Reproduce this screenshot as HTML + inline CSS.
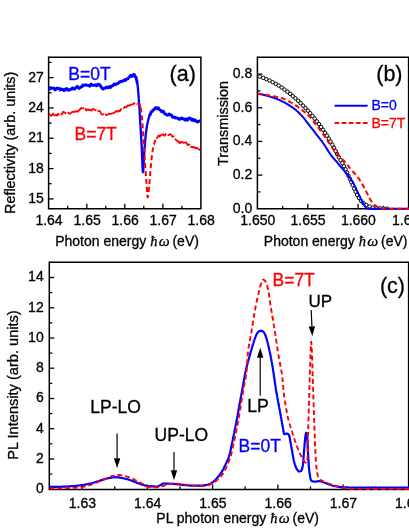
<!DOCTYPE html><html><head><meta charset="utf-8"><style>html,body{margin:0;padding:0;background:#fff}text{stroke:#000;stroke-width:.3px}text[fill="#0000ff"]{stroke:#0000ff}text[fill="#ff0000"]{stroke:#ff0000}svg{display:block;will-change:transform;transform:translateZ(0)}</style></head><body><svg width="409" height="529" viewBox="0 0 409 529"><rect width="409" height="529" fill="#fff"/><g font-family="Liberation Sans, sans-serif" fill="#000"><defs><clipPath id="ca"><rect x="48.6" y="57.2" width="152.3" height="152.7"/></clipPath><clipPath id="cb"><rect x="257.4" y="57.2" width="152" height="152.8"/></clipPath><clipPath id="cc"><rect x="49.3" y="262.2" width="360" height="228.2"/></clipPath></defs><path d="M48.6,56.5 V208.7 H201.4" fill="none" stroke="#000" stroke-width="1.5"/><path d="M48.6,57.2 H200.9 V208.7" fill="none" stroke="#000" stroke-width="1.5"/><path d="M48.6,198.9 h5.0" stroke="#000" stroke-width="1.3"/><path d="M48.6,168.6 h5.0" stroke="#000" stroke-width="1.3"/><path d="M48.6,138.2 h5.0" stroke="#000" stroke-width="1.3"/><path d="M48.6,107.9 h5.0" stroke="#000" stroke-width="1.3"/><path d="M48.6,77.6 h5.0" stroke="#000" stroke-width="1.3"/><path d="M48.6,183.7 h3.0" stroke="#000" stroke-width="1.3"/><path d="M48.6,153.4 h3.0" stroke="#000" stroke-width="1.3"/><path d="M48.6,123.1 h3.0" stroke="#000" stroke-width="1.3"/><path d="M48.6,92.8 h3.0" stroke="#000" stroke-width="1.3"/><path d="M48.6,62.4 h3.0" stroke="#000" stroke-width="1.3"/><path d="M86.8,208.7 v-5.0" stroke="#000" stroke-width="1.3"/><path d="M124.8,208.7 v-5.0" stroke="#000" stroke-width="1.3"/><path d="M162.9,208.7 v-5.0" stroke="#000" stroke-width="1.3"/><path d="M67.7,208.7 v-3.0" stroke="#000" stroke-width="1.3"/><path d="M105.8,208.7 v-3.0" stroke="#000" stroke-width="1.3"/><path d="M143.8,208.7 v-3.0" stroke="#000" stroke-width="1.3"/><path d="M181.9,208.7 v-3.0" stroke="#000" stroke-width="1.3"/><text x="43.8" y="202.8" font-size="14" text-anchor="end">15</text><text x="43.8" y="172.5" font-size="14" text-anchor="end">18</text><text x="43.8" y="142.2" font-size="14" text-anchor="end">21</text><text x="43.8" y="111.8" font-size="14" text-anchor="end">24</text><text x="43.8" y="81.5" font-size="14" text-anchor="end">27</text><text x="49.0" y="224.5" font-size="14" text-anchor="middle">1.64</text><text x="87.1" y="224.5" font-size="14" text-anchor="middle">1.65</text><text x="125.1" y="224.5" font-size="14" text-anchor="middle">1.66</text><text x="163.2" y="224.5" font-size="14" text-anchor="middle">1.67</text><text x="201.2" y="224.5" font-size="14" text-anchor="middle">1.68</text><text x="55.2" y="245.6" font-size="14">Photon energy <tspan font-family="Liberation Serif, serif" font-style="italic" font-size="14.5">&#x127;</tspan><tspan font-family="Liberation Serif, serif" font-style="italic" font-size="15.5" dx="1.3">&#x3C9;</tspan><tspan dx="-1.1"> (eV)</tspan></text><text transform="translate(15.2,214) rotate(-90)" font-size="14.4">Reflectivity (arb. units)</text><g clip-path="url(#ca)"><path d="M49.0,89.2 L49.5,89.2 L50.0,88.0 L50.5,87.6 L51.0,87.7 L51.5,88.2 L52.0,88.2 L52.5,88.3 L53.0,88.2 L53.5,88.0 L54.0,88.2 L54.5,88.9 L55.0,89.9 L55.5,89.7 L56.0,89.2 L56.5,88.5 L57.0,88.1 L57.5,88.5 L58.0,88.6 L58.5,88.6 L59.0,88.3 L59.5,89.2 L60.0,89.9 L60.5,89.6 L60.9,88.9 L61.4,89.1 L61.9,89.6 L62.4,89.6 L62.9,89.3 L63.4,89.7 L63.9,90.7 L64.4,90.6 L64.9,89.9 L65.4,89.1 L65.9,88.8 L66.5,88.6 L67.0,88.7 L67.5,89.8 L68.0,90.3 L68.5,90.1 L69.0,89.8 L69.4,90.0 L69.9,89.8 L70.4,89.3 L70.8,89.2 L71.3,89.2 L71.7,89.1 L72.1,88.3 L72.5,87.9 L73.0,88.1 L73.4,88.8 L73.8,89.0 L74.3,88.9 L74.7,89.0 L75.2,88.3 L75.7,87.9 L76.3,87.1 L76.8,87.0 L77.3,86.2 L77.8,87.0 L78.3,87.8 L78.8,88.3 L79.3,88.4 L79.8,87.9 L80.3,87.7 L80.7,87.2 L81.1,86.9 L81.5,86.5 L81.9,86.7 L82.2,86.4 L82.6,85.8 L83.0,85.0 L83.4,85.4 L83.8,85.3 L84.2,85.4 L84.7,85.2 L85.1,85.2 L85.6,84.7 L86.1,84.9 L86.6,84.9 L87.1,85.2 L87.6,85.3 L88.1,85.6 L88.6,85.5 L89.1,85.8 L89.6,86.2 L90.1,85.9 L90.6,84.6 L91.1,84.1 L91.6,84.5 L92.1,85.2 L92.6,85.2 L93.1,85.3 L93.5,85.3 L94.0,85.3 L94.5,85.3 L95.0,85.1 L95.5,84.8 L96.0,85.2 L96.5,85.8 L97.0,85.3 L97.5,84.3 L98.0,84.2 L98.5,85.0 L98.9,85.1 L99.3,84.9 L99.7,84.6 L100.0,85.2 L100.4,86.0 L100.7,86.4 L101.0,86.6 L101.3,86.9 L101.6,87.7 L101.9,88.1 L102.2,88.5 L102.6,88.6 L103.0,89.0 L103.5,88.5 L104.0,88.5 L104.5,88.3 L105.0,88.4 L105.5,87.8 L106.1,87.2 L106.6,87.0 L107.1,87.4 L107.6,87.8 L108.1,87.6 L108.6,87.2 L109.0,86.8 L109.5,86.5 L110.0,87.1 L110.4,87.6 L110.9,87.2 L111.4,86.5 L111.8,86.0 L112.3,85.7 L112.7,85.6 L113.2,85.5 L113.7,84.8 L114.1,83.9 L114.6,84.0 L115.0,84.4 L115.4,84.8 L115.9,84.4 L116.3,84.2 L116.8,83.8 L117.2,83.7 L117.7,83.5 L118.1,83.4 L118.5,82.9 L119.0,82.6 L119.4,82.1 L119.9,81.9 L120.4,81.5 L120.8,81.8 L121.3,81.4 L121.8,81.2 L122.2,80.9 L122.7,81.2 L123.2,80.9 L123.6,80.6 L124.1,80.2 L124.6,79.8 L125.0,80.2 L125.5,80.5 L125.9,79.9 L126.4,79.2 L126.8,78.9 L127.2,79.0 L127.7,78.7 L128.1,78.7 L128.5,78.0 L129.0,77.3 L129.4,77.1 L129.8,76.4 L130.2,75.7 L130.6,75.3 L131.0,75.9 L131.4,76.3 L131.8,76.5 L132.2,76.3 L132.6,75.8 L133.1,75.1 L133.5,74.4 L133.9,74.4 L134.3,74.6 L134.7,75.7 L135.1,76.7 L135.4,77.3 L135.6,77.3 L135.9,77.1 L136.1,77.5 L136.3,78.4 L136.5,79.5 L136.6,79.9 L136.8,80.7 L136.9,81.7 L137.0,82.3 L137.1,81.9 L137.1,81.9 L137.2,82.4" fill="none" stroke="#0000ff" stroke-width="2.9" stroke-linejoin="round"/><path d="M137.1,82.3 L137.2,82.7 L137.3,83.2 L137.4,83.7 L137.4,84.2 L137.5,84.7 L137.6,85.2 L137.6,85.7 L137.7,86.2 L137.8,86.7 L137.8,87.2 L137.9,87.7 L137.9,88.2 L138.0,88.7 L138.0,89.2 L138.1,89.7 L138.1,90.2 L138.1,90.7 L138.2,91.2 L138.2,91.7 L138.3,92.2 L138.3,92.7 L138.3,93.2 L138.4,93.7 L138.4,94.2 L138.5,94.7 L138.5,95.2 L138.5,95.7 L138.6,96.2 L138.6,96.7 L138.6,97.2 L138.7,97.7 L138.7,98.2 L138.7,98.7 L138.8,99.2 L138.8,99.7 L138.9,100.2 L138.9,100.7 L138.9,101.2 L139.0,101.7 L139.0,102.2 L139.0,102.7 L139.1,103.2 L139.1,103.7 L139.2,104.2 L139.2,104.7 L139.2,105.2 L139.3,105.7 L139.3,106.2 L139.3,106.7 L139.4,107.2 L139.4,107.7 L139.4,108.2 L139.4,108.7 L139.5,109.2 L139.5,109.7 L139.5,110.2 L139.6,110.7 L139.6,111.2 L139.6,111.7 L139.7,112.2 L139.7,112.7 L139.7,113.2 L139.7,113.7 L139.8,114.2 L139.8,114.7 L139.8,115.2 L139.9,115.7 L139.9,116.2 L139.9,116.7 L139.9,117.2 L140.0,117.7 L140.0,118.2 L140.0,118.7 L140.1,119.2 L140.1,119.7 L140.1,120.2 L140.1,120.7 L140.2,121.2 L140.2,121.7 L140.2,122.2 L140.3,122.7 L140.3,123.2 L140.3,123.7 L140.4,124.2 L140.4,124.7 L140.4,125.2 L140.5,125.7 L140.5,126.2 L140.5,126.7 L140.5,127.2 L140.6,127.7 L140.6,128.2 L140.6,128.7 L140.7,129.2 L140.7,129.7 L140.7,130.2 L140.8,130.7 L140.8,131.2 L140.8,131.7 L140.8,132.2 L140.9,132.7 L140.9,133.2 L140.9,133.7 L141.0,134.2 L141.0,134.7 L141.0,135.2 L141.1,135.7 L141.1,136.2 L141.1,136.7 L141.1,137.2 L141.2,137.7 L141.2,138.2 L141.2,138.7 L141.3,139.2 L141.3,139.7 L141.3,140.2 L141.3,140.7 L141.4,141.2 L141.4,141.7 L141.4,142.2 L141.5,142.7 L141.5,143.2 L141.5,143.7 L141.5,144.2 L141.6,144.7 L141.6,145.2 L141.6,145.7 L141.7,146.2 L141.7,146.7 L141.7,147.2 L141.7,147.7 L141.8,148.2 L141.8,148.8 L141.8,149.3 L141.8,149.9 L141.9,150.5 L141.9,151.1 L141.9,151.7 L141.9,152.4 L142.0,153.0 L142.0,153.6 L142.0,154.3 L142.0,154.9 L142.1,155.6 L142.1,156.3 L142.1,156.9 L142.1,157.6 L142.2,158.3 L142.2,158.9 L142.2,159.6 L142.2,160.2 L142.3,160.9 L142.3,161.5 L142.3,162.2 L142.3,162.8 L142.4,163.4 L142.4,164.0 L142.4,164.6 L142.4,165.2 L142.5,165.8 L142.5,166.3 L142.5,166.8 L142.5,167.4 L142.6,167.9 L142.6,168.3 L142.6,168.8 L142.6,169.2 L142.7,169.6 L142.7,170.0 L142.7,170.3 L142.8,170.7 L142.8,170.9 L142.8,171.2 L142.8,171.4 L142.9,171.6 L142.9,171.8 L142.9,171.9 L142.9,172.0 L143.0,172.1 L143.0,172.1 L143.0,172.1 L143.1,172.0 L143.1,171.9 L143.1,171.7 L143.1,171.5 L143.2,171.2 L143.2,171.0 L143.2,170.6 L143.3,170.3 L143.3,169.9 L143.3,169.4 L143.4,169.0 L143.4,168.5 L143.4,168.0 L143.5,167.5 L143.5,166.9 L143.5,166.3 L143.5,165.8 L143.6,165.1 L143.6,164.5 L143.6,163.9 L143.7,163.3 L143.7,162.6 L143.7,161.9 L143.8,161.3 L143.8,160.6 L143.8,160.0 L143.9,159.3 L143.9,158.6 L144.0,158.0 L144.0,157.3 L144.0,156.7 L144.1,156.0 L144.1,155.4 L144.1,154.8 L144.2,154.2 L144.2,153.7 L144.2,153.1 L144.3,152.6 L144.3,152.1 L144.4,151.6 L144.4,151.1 L144.4,150.6 L144.5,150.1 L144.5,149.6 L144.5,149.1 L144.6,148.6 L144.6,148.1 L144.7,147.6 L144.7,147.1 L144.7,146.6 L144.8,146.1 L144.8,145.6 L144.8,145.1 L144.9,144.6 L144.9,144.1 L145.0,143.6 L145.0,143.1 L145.0,142.6 L145.1,142.1 L145.1,141.6 L145.2,141.1 L145.2,140.6 L145.3,140.1 L145.3,139.6 L145.3,139.1 L145.4,138.6 L145.4,138.1 L145.5,137.6 L145.5,137.1 L145.6,136.6 L145.6,136.1 L145.7,135.6 L145.7,135.1 L145.8,134.6 L145.8,134.1 L145.9,133.7 L146.0,133.2 L146.0,132.7 L146.1,132.2 L146.1,131.7 L146.2,131.2 L146.3,130.7 L146.3,130.2 L146.4,129.7 L146.5,129.2 L146.5,128.7 L146.6,128.2 L146.7,127.7 L146.8,127.2 L146.9,126.7 L146.9,126.2 L147.0,125.7 L147.1,125.2 L147.2,124.7 L147.3,124.2 L147.4,123.7 L147.5,123.3 L147.6,122.8 L147.7,122.3 L147.8,121.8 L147.9,121.3 L148.0,120.8 L148.2,120.3 L148.3,119.8 L148.4,119.4 L148.5,118.9 L148.7,118.4 L148.8,117.9 L148.9,117.4 L149.1,117.0 L149.2,116.5 L149.4,115.9 L149.5,115.4 L149.7,114.9" fill="none" stroke="#0000ff" stroke-width="2.3" stroke-linejoin="round"/><path d="M149.5,115.5 L149.7,115.1 L149.9,114.9 L150.1,114.8 L150.3,114.6 L150.5,113.9 L150.7,113.0 L150.9,112.2 L151.2,111.6 L151.4,111.6 L151.7,111.5 L152.0,111.7 L152.4,110.9 L152.8,110.5 L153.2,109.9 L153.6,109.8 L154.1,109.4 L154.5,108.7 L155.0,108.2 L155.5,107.8 L155.9,107.6 L156.4,108.1 L156.8,108.3 L157.3,108.9 L157.7,108.0 L158.2,107.8 L158.6,108.0 L159.1,109.1 L159.5,109.6 L160.0,110.0 L160.4,110.2 L160.8,110.2 L161.2,111.2 L161.7,111.9 L162.1,111.9 L162.5,111.2 L162.9,111.4 L163.3,111.3 L163.7,111.5 L164.1,112.5 L164.6,113.8 L165.0,114.1 L165.4,113.9 L165.9,114.4 L166.3,114.7 L166.8,115.1 L167.2,115.2 L167.7,115.1 L168.2,115.1 L168.6,114.5 L169.1,114.0 L169.5,114.0 L170.0,114.7 L170.5,114.9 L170.9,114.9 L171.4,115.1 L171.9,116.1 L172.3,117.0 L172.8,117.2 L173.3,116.9 L173.7,117.0 L174.2,117.3 L174.6,117.3 L175.1,118.1 L175.6,117.8 L176.0,117.8 L176.5,117.8 L176.9,118.0 L177.4,118.1 L177.9,118.2 L178.4,118.9 L178.8,119.0 L179.3,119.4 L179.8,119.0 L180.3,119.1 L180.8,118.4 L181.3,118.2 L181.8,117.9 L182.3,118.5 L182.8,118.6 L183.3,119.0 L183.8,118.7 L184.3,119.2 L184.9,120.0 L185.3,120.2 L185.8,119.5 L186.3,118.9 L186.8,119.4 L187.4,120.2 L187.9,119.8 L188.3,119.0 L188.8,118.2 L189.3,118.3 L189.8,118.0 L190.3,118.5 L190.8,118.7 L191.3,119.6 L191.8,120.2 L192.3,120.3 L192.7,119.5 L193.2,119.2 L193.7,120.1 L194.2,120.6 L194.6,120.2 L195.1,119.9 L195.6,120.5 L196.1,121.0 L196.6,121.5 L197.1,121.8 L197.5,122.1 L198.0,121.5 L198.5,121.3 L199.0,121.3 L199.5,121.0 L200.0,121.0 L200.5,121.3" fill="none" stroke="#0000ff" stroke-width="2.9" stroke-linejoin="round"/><path d="M49.0,114.2 L49.5,113.9 L50.0,114.9 L50.6,115.4 L51.1,115.9 L51.6,115.6 L52.1,115.1 L52.6,114.0 L53.1,113.5 L53.6,114.4 L54.1,115.2 L54.6,115.4 L55.1,115.5 L55.6,115.1 L56.1,114.7 L56.6,115.2 L57.1,115.6 L57.5,114.7 L58.0,113.8 L58.5,114.1 L59.0,114.7 L59.4,114.4 L59.9,114.2 L60.4,113.3 L60.8,113.3 L61.3,113.8 L61.8,114.7 L62.2,113.7 L62.7,112.9 L63.2,111.7 L63.6,111.9 L64.1,112.1 L64.6,112.8 L65.1,112.8 L65.6,113.1 L66.1,113.8 L66.6,114.0 L67.1,114.0 L67.6,113.3 L68.1,112.7 L68.6,112.6 L69.0,113.3 L69.5,113.6 L70.0,114.0 L70.4,113.6 L70.9,113.0 L71.3,112.4 L71.8,112.3 L72.2,112.2 L72.7,111.7 L73.1,111.9 L73.6,111.7 L74.1,111.9 L74.5,111.5 L75.0,112.0 L75.5,111.4 L76.1,111.4 L76.6,111.0 L77.1,111.5 L77.6,111.8 L78.0,111.7 L78.5,110.9 L78.9,110.1 L79.3,110.2 L79.7,109.7 L80.1,109.4 L80.4,108.7 L80.8,108.4 L81.2,107.9 L81.6,108.2 L82.0,108.4 L82.5,108.2 L82.9,108.1 L83.4,108.3 L83.9,107.7 L84.4,107.5 L84.9,107.9 L85.4,109.2 L85.9,110.1 L86.4,110.5 L86.9,110.1 L87.4,109.3 L87.9,109.1 L88.4,109.5 L88.9,110.3 L89.5,110.1 L90.0,109.8 L90.5,109.8 L91.0,110.6 L91.5,110.7 L92.0,110.1 L92.5,109.2 L93.0,108.9 L93.5,108.9 L94.0,109.2 L94.5,109.8 L95.0,110.2 L95.4,110.3 L95.9,110.0 L96.3,109.9 L96.7,109.8 L97.2,110.2 L97.6,110.8 L98.0,111.3 L98.4,111.0 L98.9,110.6 L99.3,110.9 L99.7,111.2 L100.1,111.3 L100.6,112.2 L101.0,113.7 L101.4,114.2 L101.8,114.3 L102.2,114.6 L102.7,114.7 L103.1,114.3 L103.5,114.2 L104.0,114.6 L104.5,114.1 L104.9,113.7 L105.4,113.9 L105.9,114.7 L106.4,115.2 L106.9,114.8 L107.4,114.8 L107.9,114.6 L108.4,114.2 L108.9,113.7 L109.4,113.6 L109.9,114.0 L110.4,113.7 L110.9,114.0 L111.4,113.9 L111.8,113.6 L112.3,113.3 L112.8,113.3 L113.3,113.0 L113.8,112.9 L114.3,112.8 L114.7,112.4 L115.2,111.7 L115.7,111.2 L116.2,111.0 L116.7,111.7 L117.2,111.9 L117.6,111.6 L118.1,110.7 L118.6,110.5 L119.0,110.8 L119.5,111.4 L119.9,111.2 L120.4,110.3 L120.8,109.6 L121.2,109.2 L121.6,108.7 L122.1,108.4 L122.5,108.4 L122.9,108.7 L123.3,108.8 L123.7,108.4 L124.2,107.5 L124.6,107.0 L125.0,106.6 L125.5,107.0 L125.9,107.1 L126.4,107.4 L126.8,106.8 L127.3,105.8 L127.7,105.5 L128.2,106.0 L128.6,105.9 L129.1,105.2 L129.6,105.2 L130.0,105.2 L130.5,105.3 L131.0,105.0 L131.4,104.6 L131.9,104.2 L132.4,104.4 L132.9,104.3 L133.4,103.9 L133.9,103.2 L134.4,103.6 L134.8,103.3 L135.3,103.7 L135.8,103.2 L136.3,103.5 L136.9,103.9 L137.5,103.9 L138.0,104.0 L138.5,104.0 L139.0,104.2 L139.3,104.0 L139.6,104.1 L139.8,104.2 L140.0,104.9 L140.1,105.7 L140.3,106.6 L140.4,107.0 L140.5,107.2 L140.6,107.2" fill="none" stroke="#ff0000" stroke-width="1.7" stroke-dasharray="16,1.8,9,1.8,22,1.8" stroke-linejoin="round"/><path d="M140.6,107.5 L140.7,108.1 L140.8,108.6 L140.9,109.2 L141.0,109.8 L141.1,110.3 L141.2,110.9 L141.3,111.5 L141.3,112.0 L141.4,112.5 L141.5,113.0 L141.5,113.5 L141.6,114.0 L141.6,114.5 L141.7,115.0 L141.8,115.5 L141.8,116.0 L141.9,116.5 L141.9,117.0 L142.0,117.5 L142.0,118.0 L142.1,118.5 L142.1,119.0 L142.1,119.5 L142.2,120.0 L142.2,120.5 L142.3,121.0 L142.3,121.5 L142.4,122.0 L142.4,122.5 L142.4,123.0 L142.5,123.5 L142.5,124.0 L142.5,124.5 L142.6,125.0 L142.6,125.5 L142.6,126.0 L142.7,126.5 L142.7,127.0 L142.7,127.5 L142.8,128.0 L142.8,128.5 L142.9,129.0 L142.9,129.5 L142.9,130.0 L143.0,130.5 L143.0,131.0 L143.0,131.5 L143.1,132.0 L143.1,132.5 L143.1,133.0 L143.2,133.5 L143.2,134.0 L143.2,134.5 L143.3,135.0 L143.3,135.5 L143.3,136.0 L143.4,136.5 L143.4,137.0 L143.4,137.5 L143.4,138.0 L143.5,138.5 L143.5,139.0 L143.5,139.5 L143.6,140.0 L143.6,140.5 L143.6,141.0 L143.7,141.5 L143.7,142.0 L143.7,142.5 L143.7,143.0 L143.8,143.5 L143.8,144.0 L143.8,144.5 L143.9,145.0 L143.9,145.5 L143.9,146.0 L143.9,146.5 L144.0,147.0 L144.0,147.5 L144.0,148.0 L144.1,148.5 L144.1,149.0 L144.1,149.5 L144.2,150.0 L144.2,150.5 L144.2,151.0 L144.2,151.5 L144.3,152.0 L144.3,152.5 L144.3,153.0 L144.4,153.5 L144.4,154.0 L144.4,154.5 L144.5,155.0 L144.5,155.5 L144.5,156.0 L144.6,156.5 L144.6,157.0 L144.6,157.5 L144.7,158.0 L144.7,158.5 L144.7,159.0 L144.8,159.5 L144.8,160.0 L144.8,160.5 L144.9,161.0 L144.9,161.5 L145.0,162.0 L145.0,162.5 L145.0,163.0 L145.1,163.5 L145.1,164.0 L145.1,164.5 L145.2,165.0 L145.2,165.5 L145.2,166.0 L145.3,166.5 L145.3,167.0 L145.3,167.5 L145.4,167.9 L145.4,168.4 L145.5,168.9 L145.5,169.4 L145.5,169.9 L145.6,170.4 L145.6,170.9 L145.6,171.4 L145.7,171.9 L145.7,172.4 L145.7,172.9 L145.8,173.4 L145.8,173.9 L145.9,174.4 L145.9,174.9 L145.9,175.4 L146.0,175.9 L146.0,176.4 L146.1,176.9 L146.1,177.4 L146.1,177.9 L146.2,178.4 L146.2,178.9 L146.3,179.5 L146.3,180.0 L146.3,180.6 L146.4,181.1 L146.4,181.7 L146.4,182.4 L146.5,183.0 L146.5,183.6 L146.6,184.3 L146.6,185.0 L146.7,185.6 L146.7,186.3 L146.7,186.9 L146.8,187.6 L146.8,188.3 L146.9,188.9 L146.9,189.6 L146.9,190.2 L147.0,190.8 L147.0,191.4 L147.1,192.0 L147.1,192.6 L147.2,193.1 L147.2,193.6 L147.2,194.1 L147.3,194.6 L147.3,195.1 L147.4,195.5 L147.4,195.8 L147.5,196.2 L147.5,196.5 L147.6,196.7 L147.6,196.9 L147.7,197.1 L147.7,197.2 L147.8,197.3 L147.8,197.3 L147.9,197.2 L147.9,197.1 L148.0,196.9 L148.0,196.7 L148.1,196.4 L148.1,196.0 L148.2,195.6 L148.2,195.2 L148.3,194.7 L148.4,194.2 L148.4,193.6 L148.5,193.0 L148.5,192.4 L148.6,191.8 L148.7,191.2 L148.7,190.5 L148.8,189.8 L148.8,189.2 L148.9,188.5 L149.0,187.9 L149.0,187.2 L149.1,186.6 L149.1,186.0 L149.2,185.4 L149.2,184.8 L149.3,184.3 L149.3,183.8 L149.4,183.3 L149.4,182.8 L149.5,182.3 L149.5,181.8 L149.6,181.3 L149.6,180.8 L149.6,180.3 L149.7,179.8 L149.7,179.3 L149.8,178.8 L149.8,178.3 L149.9,177.8 L149.9,177.3 L149.9,176.8 L150.0,176.3 L150.0,175.8 L150.1,175.3 L150.1,174.8 L150.1,174.3 L150.2,173.8 L150.2,173.3 L150.3,172.8 L150.3,172.3 L150.3,171.8 L150.4,171.3 L150.4,170.8 L150.5,170.3 L150.5,169.8 L150.5,169.3 L150.6,168.8 L150.6,168.3 L150.7,167.8 L150.7,167.3 L150.8,166.8 L150.8,166.3 L150.9,165.8 L150.9,165.3 L151.0,164.8 L151.0,164.3 L151.1,163.8 L151.1,163.3 L151.2,162.8 L151.2,162.3 L151.3,161.8 L151.3,161.3 L151.4,160.8 L151.4,160.3 L151.5,159.8 L151.5,159.3 L151.6,158.8 L151.6,158.3 L151.7,157.8 L151.7,157.3 L151.8,156.8 L151.9,156.3 L151.9,155.8 L152.0,155.3 L152.0,154.8 L152.1,154.3 L152.2,153.8 L152.2,153.3 L152.3,152.9 L152.4,152.4 L152.4,151.9 L152.5,151.4 L152.6,150.9 L152.7,150.4 L152.8,149.9 L152.9,149.4 L152.9,148.9 L153.0,148.4 L153.1,147.9 L153.2,147.4 L153.3,146.9 L153.5,146.4 L153.6,145.9 L153.7,145.4 L153.8,144.9 L154.0,144.4 L154.1,143.9 L154.2,143.4 L154.4,142.9 L154.6,142.5 L154.7,142.0 L154.9,141.5 L155.1,141.1 L155.3,140.7 L155.5,140.3 L155.7,139.9 L155.9,139.4 L156.2,139.0" fill="none" stroke="#ff0000" stroke-width="2" stroke-dasharray="5,3" stroke-linejoin="round"/><path d="M156.2,138.0 L156.5,137.8 L156.9,138.1 L157.2,137.6 L157.6,137.3 L158.0,136.6 L158.3,135.8 L158.7,135.3 L159.2,136.3 L159.6,136.7 L160.0,135.9 L160.4,135.1 L160.8,135.2 L161.3,135.6 L161.8,135.2 L162.3,134.5 L162.8,134.1 L163.3,134.4 L163.8,135.1 L164.3,135.8 L164.8,135.5 L165.3,134.5 L165.8,133.9 L166.3,134.1 L166.8,134.3 L167.3,134.6 L167.8,134.8 L168.3,135.1 L168.7,135.2 L169.2,134.9 L169.7,134.1 L170.1,134.1 L170.6,134.4 L171.0,134.5 L171.4,135.2 L171.9,136.1 L172.3,136.7 L172.7,136.5 L173.1,136.2 L173.5,136.3 L173.9,137.5 L174.3,137.9 L174.7,138.2 L175.1,138.4 L175.5,139.6 L175.8,139.7 L176.2,140.1 L176.6,140.2 L177.0,140.6 L177.4,141.3 L177.7,141.7 L178.1,141.3 L178.6,141.2 L179.0,142.0 L179.4,142.9 L179.9,143.2 L180.4,142.7 L180.8,141.9 L181.3,141.8 L181.9,142.3 L182.4,142.3 L182.9,142.2 L183.4,142.3 L183.9,143.0 L184.5,142.8 L185.0,142.7 L185.5,142.3 L185.9,142.4 L186.4,142.3 L186.9,143.3 L187.3,144.8 L187.7,145.3 L188.1,144.9 L188.6,144.5 L189.0,144.4 L189.4,144.6 L189.8,144.5 L190.2,145.5 L190.6,146.3 L191.0,147.1 L191.5,146.5 L191.9,146.6 L192.4,147.0 L192.8,147.3 L193.3,147.2 L193.7,146.8 L194.2,146.9 L194.7,147.4 L195.1,148.2 L195.6,148.3 L196.1,147.8 L196.6,148.0 L197.0,148.3 L197.5,148.7 L198.0,148.4 L198.5,148.7 L199.0,149.3 L199.5,149.8 L200.0,149.8 L200.5,149.6" fill="none" stroke="#ff0000" stroke-width="1.7" stroke-dasharray="16,1.8,9,1.8,22,1.8" stroke-linejoin="round"/></g><text x="68.3" y="80" font-size="17.5" fill="#0000ff">B=0T</text><text x="74.5" y="139.8" font-size="17.5" fill="#ff0000">B=7T</text><text x="182.7" y="80.5" font-size="21.5" text-anchor="middle">(a)</text><path d="M257.4,56.5 V208.7 H410" fill="none" stroke="#000" stroke-width="1.5"/><path d="M257.4,57.2 H410" fill="none" stroke="#000" stroke-width="1.5"/><path d="M408.6,57.2 V208.7" fill="none" stroke="#000" stroke-width="1.5"/><path d="M257.4,175.1 h5.0" stroke="#000" stroke-width="1.3"/><path d="M257.4,141.4 h5.0" stroke="#000" stroke-width="1.3"/><path d="M257.4,107.8 h5.0" stroke="#000" stroke-width="1.3"/><path d="M257.4,74.1 h5.0" stroke="#000" stroke-width="1.3"/><path d="M257.4,191.9 h3.0" stroke="#000" stroke-width="1.3"/><path d="M257.4,158.2 h3.0" stroke="#000" stroke-width="1.3"/><path d="M257.4,124.6 h3.0" stroke="#000" stroke-width="1.3"/><path d="M257.4,91.0 h3.0" stroke="#000" stroke-width="1.3"/><path d="M307.8,208.7 v-5.0" stroke="#000" stroke-width="1.3"/><path d="M358.1,208.7 v-5.0" stroke="#000" stroke-width="1.3"/><path d="M282.7,208.7 v-3.0" stroke="#000" stroke-width="1.3"/><path d="M333.0,208.7 v-3.0" stroke="#000" stroke-width="1.3"/><path d="M383.3,208.7 v-3.0" stroke="#000" stroke-width="1.3"/><text x="252.2" y="212.6" font-size="14" text-anchor="end">0.0</text><text x="252.2" y="179.0" font-size="14" text-anchor="end">0.2</text><text x="252.2" y="145.3" font-size="14" text-anchor="end">0.4</text><text x="252.2" y="111.7" font-size="14" text-anchor="end">0.6</text><text x="252.2" y="78.0" font-size="14" text-anchor="end">0.8</text><text x="257.8" y="224.5" font-size="14" text-anchor="middle">1.650</text><text x="308.1" y="224.5" font-size="14" text-anchor="middle">1.655</text><text x="358.4" y="224.5" font-size="14" text-anchor="middle">1.660</text><text x="409.5" y="224.5" font-size="14" text-anchor="middle">1.665</text><text x="263.8" y="245.6" font-size="14">Photon energy <tspan font-family="Liberation Serif, serif" font-style="italic" font-size="14.5">&#x127;</tspan><tspan font-family="Liberation Serif, serif" font-style="italic" font-size="15.5" dx="1.3">&#x3C9;</tspan><tspan dx="-1.1"> (eV)</tspan></text><text transform="translate(228.4,166) rotate(-90)" font-size="14.4">Transmission</text><g clip-path="url(#cb)"><circle cx="259.8" cy="76.5" r="1.75" fill="#fff" stroke="#000" stroke-width="1"/><circle cx="263.2" cy="77.8" r="1.75" fill="#fff" stroke="#000" stroke-width="1"/><circle cx="266.3" cy="79.1" r="1.75" fill="#fff" stroke="#000" stroke-width="1"/><circle cx="269.6" cy="80.6" r="1.75" fill="#fff" stroke="#000" stroke-width="1"/><circle cx="272.6" cy="82.2" r="1.75" fill="#fff" stroke="#000" stroke-width="1"/><circle cx="275.8" cy="83.9" r="1.75" fill="#fff" stroke="#000" stroke-width="1"/><circle cx="278.7" cy="85.6" r="1.75" fill="#fff" stroke="#000" stroke-width="1"/><circle cx="281.7" cy="87.6" r="1.75" fill="#fff" stroke="#000" stroke-width="1"/><circle cx="284.5" cy="89.6" r="1.75" fill="#fff" stroke="#000" stroke-width="1"/><circle cx="287.4" cy="91.7" r="1.75" fill="#fff" stroke="#000" stroke-width="1"/><circle cx="290.1" cy="93.8" r="1.75" fill="#fff" stroke="#000" stroke-width="1"/><circle cx="292.8" cy="96.1" r="1.75" fill="#fff" stroke="#000" stroke-width="1"/><circle cx="295.4" cy="98.3" r="1.75" fill="#fff" stroke="#000" stroke-width="1"/><circle cx="298.1" cy="100.7" r="1.75" fill="#fff" stroke="#000" stroke-width="1"/><circle cx="300.6" cy="103.1" r="1.75" fill="#fff" stroke="#000" stroke-width="1"/><circle cx="303.1" cy="105.6" r="1.75" fill="#fff" stroke="#000" stroke-width="1"/><circle cx="305.5" cy="108.0" r="1.75" fill="#fff" stroke="#000" stroke-width="1"/><circle cx="308.0" cy="110.7" r="1.75" fill="#fff" stroke="#000" stroke-width="1"/><circle cx="310.2" cy="113.2" r="1.75" fill="#fff" stroke="#000" stroke-width="1"/><circle cx="312.5" cy="116.0" r="1.75" fill="#fff" stroke="#000" stroke-width="1"/><circle cx="314.7" cy="118.6" r="1.75" fill="#fff" stroke="#000" stroke-width="1"/><circle cx="316.9" cy="121.4" r="1.75" fill="#fff" stroke="#000" stroke-width="1"/><circle cx="319.0" cy="124.1" r="1.75" fill="#fff" stroke="#000" stroke-width="1"/><circle cx="321.1" cy="127.0" r="1.75" fill="#fff" stroke="#000" stroke-width="1"/><circle cx="323.1" cy="129.8" r="1.75" fill="#fff" stroke="#000" stroke-width="1"/><circle cx="325.1" cy="132.8" r="1.75" fill="#fff" stroke="#000" stroke-width="1"/><circle cx="327.0" cy="135.6" r="1.75" fill="#fff" stroke="#000" stroke-width="1"/><circle cx="328.9" cy="138.7" r="1.75" fill="#fff" stroke="#000" stroke-width="1"/><circle cx="330.6" cy="141.6" r="1.75" fill="#fff" stroke="#000" stroke-width="1"/><circle cx="332.4" cy="144.7" r="1.75" fill="#fff" stroke="#000" stroke-width="1"/><circle cx="334.0" cy="147.7" r="1.75" fill="#fff" stroke="#000" stroke-width="1"/><circle cx="335.6" cy="151.0" r="1.75" fill="#fff" stroke="#000" stroke-width="1"/><circle cx="337.1" cy="154.0" r="1.75" fill="#fff" stroke="#000" stroke-width="1"/><circle cx="338.8" cy="157.2" r="1.75" fill="#fff" stroke="#000" stroke-width="1"/><circle cx="340.5" cy="160.1" r="1.75" fill="#fff" stroke="#000" stroke-width="1"/><circle cx="342.3" cy="163.2" r="1.75" fill="#fff" stroke="#000" stroke-width="1"/><circle cx="344.0" cy="166.2" r="1.75" fill="#fff" stroke="#000" stroke-width="1"/><circle cx="345.6" cy="169.4" r="1.75" fill="#fff" stroke="#000" stroke-width="1"/><circle cx="347.0" cy="172.5" r="1.75" fill="#fff" stroke="#000" stroke-width="1"/><circle cx="348.5" cy="175.8" r="1.75" fill="#fff" stroke="#000" stroke-width="1"/><circle cx="349.9" cy="178.9" r="1.75" fill="#fff" stroke="#000" stroke-width="1"/><circle cx="351.3" cy="182.2" r="1.75" fill="#fff" stroke="#000" stroke-width="1"/><circle cx="352.7" cy="185.3" r="1.75" fill="#fff" stroke="#000" stroke-width="1"/><circle cx="354.2" cy="188.6" r="1.75" fill="#fff" stroke="#000" stroke-width="1"/><circle cx="355.6" cy="191.7" r="1.75" fill="#fff" stroke="#000" stroke-width="1"/><circle cx="357.2" cy="194.9" r="1.75" fill="#fff" stroke="#000" stroke-width="1"/><circle cx="358.9" cy="197.9" r="1.75" fill="#fff" stroke="#000" stroke-width="1"/><circle cx="361.0" cy="200.8" r="1.75" fill="#fff" stroke="#000" stroke-width="1"/><circle cx="363.5" cy="203.1" r="1.75" fill="#fff" stroke="#000" stroke-width="1"/><circle cx="366.3" cy="205.0" r="1.75" fill="#fff" stroke="#000" stroke-width="1"/><circle cx="369.6" cy="206.5" r="1.75" fill="#fff" stroke="#000" stroke-width="1"/><circle cx="372.9" cy="207.6" r="1.75" fill="#fff" stroke="#000" stroke-width="1"/><circle cx="376.4" cy="208.1" r="1.75" fill="#fff" stroke="#000" stroke-width="1"/><circle cx="379.9" cy="208.3" r="1.75" fill="#fff" stroke="#000" stroke-width="1"/><circle cx="383.3" cy="208.5" r="1.75" fill="#fff" stroke="#000" stroke-width="1"/><circle cx="386.9" cy="208.6" r="1.75" fill="#fff" stroke="#000" stroke-width="1"/><path d="M257.3,93.6 L258.3,93.8 L259.3,94.0 L260.3,94.1 L261.2,94.3 L262.2,94.6 L263.2,94.8 L264.2,95.0 L265.1,95.2 L266.1,95.5 L267.1,95.7 L268.1,96.0 L269.0,96.3 L270.0,96.6 L270.9,96.9 L271.9,97.2 L272.8,97.5 L273.8,97.8 L274.7,98.1 L275.7,98.5 L276.6,98.8 L277.5,99.2 L278.5,99.6 L279.4,100.0 L280.3,100.4 L281.2,100.9 L282.1,101.3 L283.0,101.8 L283.9,102.2 L284.8,102.7 L285.6,103.2 L286.5,103.7 L287.4,104.2 L288.2,104.7 L289.1,105.2 L289.9,105.8 L290.8,106.3 L291.6,106.9 L292.4,107.4 L293.3,108.0 L294.1,108.6 L294.9,109.2 L295.6,109.8 L296.4,110.5 L297.1,111.2 L297.9,111.8 L298.6,112.5 L299.3,113.2 L300.0,113.9 L300.7,114.7 L301.4,115.4 L302.1,116.1 L302.8,116.9 L303.4,117.6 L304.1,118.4 L304.7,119.2 L305.3,120.0 L305.9,120.8 L306.5,121.6 L307.1,122.4 L307.7,123.2 L308.3,124.0 L309.0,124.8 L309.6,125.6 L310.2,126.3 L310.8,127.1 L311.4,127.9 L312.0,128.7 L312.7,129.5 L313.3,130.3 L313.9,131.1 L314.5,131.9 L315.1,132.7 L315.7,133.5 L316.3,134.3 L316.9,135.1 L317.5,135.9 L318.2,136.6 L318.8,137.4 L319.4,138.2 L320.0,139.0 L320.6,139.8 L321.3,140.6 L321.9,141.4 L322.5,142.2 L323.1,143.0 L323.6,143.8 L324.2,144.6 L324.8,145.5 L325.3,146.3 L325.8,147.1 L326.4,148.0 L326.9,148.9 L327.4,149.7 L327.9,150.6 L328.5,151.4 L329.0,152.3 L329.6,153.1 L330.1,153.9 L330.7,154.7 L331.3,155.5 L332.0,156.3 L332.6,157.1 L333.2,157.9 L333.9,158.6 L334.5,159.4 L335.2,160.2 L335.8,160.9 L336.5,161.7 L337.1,162.4 L337.8,163.2 L338.4,164.0 L339.1,164.7 L339.7,165.5 L340.4,166.3 L341.0,167.0 L341.7,167.8 L342.4,168.5 L343.0,169.3 L343.7,170.0 L344.3,170.8 L344.9,171.6 L345.6,172.4 L346.2,173.1 L346.9,173.9 L347.5,174.7 L348.1,175.5 L348.8,176.3 L349.4,177.1 L350.0,177.9 L350.6,178.7 L351.1,179.5 L351.7,180.3 L352.2,181.1 L352.7,182.0 L353.2,182.9 L353.7,183.7 L354.1,184.6 L354.6,185.5 L355.0,186.4 L355.5,187.3 L355.9,188.2 L356.3,189.1 L356.7,190.1 L357.1,191.0 L357.6,191.9 L358.0,192.8 L358.4,193.7 L358.9,194.6 L359.3,195.5 L359.8,196.4 L360.2,197.3 L360.6,198.3 L361.0,199.2 L361.5,200.1 L361.9,201.0 L362.3,201.9 L362.8,202.8 L363.3,203.7 L363.8,204.5 L364.3,205.4 L364.8,206.2 L365.5,207.0 L366.2,207.7 L367.0,208.3 L367.9,208.7 L368.9,208.7 L369.9,208.8 L370.9,208.8 L371.9,208.8 L372.9,208.8 L373.9,208.8 L374.9,208.8 L375.9,208.8 L376.9,208.8 L377.9,208.8 L378.9,208.8 L379.9,208.8 L380.9,208.8 L381.9,208.8 L382.9,208.8 L384.0,208.8 L385.0,208.8 L386.0,208.8 L387.0,208.8 L388.0,208.8 L389.0,208.8 L390.0,208.8 L391.0,208.8 L392.0,208.8 L393.0,208.8 L394.0,208.8 L395.0,208.8 L396.0,208.8 L397.0,208.8 L398.0,208.8 L399.0,208.8 L400.0,208.8 L401.0,208.8 L402.0,208.8 L403.0,208.8 L404.0,208.8 L405.0,208.8 L406.0,208.8 L407.0,208.8 L408.0,208.8 L409.0,208.8" fill="none" stroke="#0000ff" stroke-width="2.0"/><path d="M257.3,93.6 L258.3,93.7 L259.3,93.9 L260.3,94.1 L261.3,94.2 L262.3,94.4 L263.3,94.5 L264.2,94.7 L265.2,94.8 L266.2,95.0 L267.2,95.2 L268.2,95.3 L269.2,95.5 L270.2,95.7 L271.2,95.8 L272.2,96.0 L273.2,96.2 L274.1,96.4 L275.1,96.5 L276.1,96.7 L277.1,96.9 L278.1,97.1 L279.1,97.3 L280.0,97.5 L281.0,97.8 L281.9,98.1 L282.9,98.5 L283.8,98.9 L284.7,99.3 L285.6,99.7 L286.5,100.2 L287.4,100.6 L288.3,101.1 L289.2,101.5 L290.1,102.0 L291.0,102.5 L291.9,103.0 L292.7,103.5 L293.6,104.0 L294.5,104.5 L295.3,105.1 L296.1,105.6 L297.0,106.2 L297.8,106.8 L298.6,107.4 L299.4,108.0 L300.2,108.6 L301.0,109.2 L301.8,109.8 L302.6,110.5 L303.4,111.1 L304.1,111.7 L304.9,112.4 L305.7,113.0 L306.4,113.7 L307.2,114.3 L307.9,115.0 L308.6,115.7 L309.3,116.4 L310.0,117.2 L310.7,117.9 L311.3,118.7 L312.0,119.4 L312.6,120.2 L313.2,121.0 L313.8,121.8 L314.4,122.6 L315.0,123.4 L315.6,124.3 L316.2,125.1 L316.8,125.9 L317.5,126.6 L318.1,127.4 L318.7,128.2 L319.3,129.0 L319.9,129.9 L320.5,130.7 L321.1,131.5 L321.7,132.3 L322.3,133.1 L322.8,133.9 L323.4,134.7 L324.0,135.5 L324.6,136.3 L325.2,137.2 L325.7,138.0 L326.3,138.8 L326.8,139.7 L327.4,140.5 L327.9,141.4 L328.5,142.2 L329.0,143.1 L329.6,143.9 L330.1,144.8 L330.7,145.6 L331.3,146.4 L331.8,147.2 L332.4,148.1 L333.0,148.9 L333.6,149.7 L334.2,150.5 L334.8,151.2 L335.5,152.0 L336.1,152.7 L336.8,153.5 L337.5,154.2 L338.2,154.9 L338.9,155.7 L339.6,156.4 L340.3,157.1 L341.0,157.8 L341.7,158.5 L342.4,159.2 L343.1,160.0 L343.8,160.7 L344.5,161.4 L345.1,162.2 L345.8,163.0 L346.4,163.7 L347.1,164.5 L347.7,165.3 L348.4,166.0 L349.0,166.8 L349.6,167.6 L350.3,168.4 L350.9,169.2 L351.5,169.9 L352.2,170.7 L352.8,171.5 L353.5,172.2 L354.2,173.0 L354.8,173.8 L355.5,174.5 L356.1,175.3 L356.8,176.0 L357.4,176.8 L358.1,177.6 L358.7,178.4 L359.2,179.2 L359.8,180.0 L360.3,180.9 L360.8,181.7 L361.4,182.6 L361.8,183.4 L362.3,184.3 L362.8,185.2 L363.3,186.1 L363.8,187.0 L364.2,187.9 L364.7,188.8 L365.2,189.7 L365.6,190.6 L366.1,191.4 L366.6,192.3 L367.1,193.2 L367.6,194.1 L368.0,195.0 L368.5,195.9 L368.9,196.9 L369.4,197.8 L369.8,198.7 L370.3,199.6 L370.8,200.4 L371.4,201.3 L371.9,202.1 L372.5,202.8 L373.2,203.6 L373.9,204.3 L374.7,205.0 L375.5,205.6 L376.3,206.2 L377.2,206.6 L378.1,207.0 L379.0,207.4 L380.0,207.7 L381.0,207.9 L381.9,208.2 L382.9,208.4 L383.9,208.6 L384.9,208.7 L385.9,208.8 L386.9,208.8 L387.9,208.8 L388.9,208.8 L389.9,208.8 L390.9,208.8 L391.9,208.8 L392.9,208.8 L393.9,208.8 L394.9,208.8 L395.9,208.8 L396.9,208.8 L397.9,208.8 L398.9,208.8 L399.9,208.8 L400.9,208.8 L401.9,208.8 L402.9,208.8 L403.9,208.8 L404.9,208.8 L406.0,208.8 L407.0,208.8 L408.0,208.8 L409.0,208.8" fill="none" stroke="#ff0000" stroke-width="2.0" stroke-dasharray="5,3"/></g><text x="389.4" y="80.5" font-size="21.5" text-anchor="middle">(b)</text><path d="M334.6,105.8 H367.6" stroke="#0000ff" stroke-width="2"/><path d="M334.6,123.1 H367.6" stroke="#ff0000" stroke-width="2" stroke-dasharray="4.6,2.5"/><text x="371.4" y="110.4" font-size="14" fill="#0000ff">B=0</text><text x="371.4" y="127.8" font-size="14" fill="#ff0000">B=7T</text><path d="M49.3,261.5 V489.4 H410" fill="none" stroke="#000" stroke-width="1.5"/><path d="M49.3,262.2 H410" fill="none" stroke="#000" stroke-width="1.5"/><path d="M408.6,262.2 V489.4" fill="none" stroke="#000" stroke-width="1.5"/><path d="M49.3,459.0 h5.0" stroke="#000" stroke-width="1.3"/><path d="M49.3,428.7 h5.0" stroke="#000" stroke-width="1.3"/><path d="M49.3,398.5 h5.0" stroke="#000" stroke-width="1.3"/><path d="M49.3,368.2 h5.0" stroke="#000" stroke-width="1.3"/><path d="M49.3,338.0 h5.0" stroke="#000" stroke-width="1.3"/><path d="M49.3,307.8 h5.0" stroke="#000" stroke-width="1.3"/><path d="M49.3,277.5 h5.0" stroke="#000" stroke-width="1.3"/><path d="M49.3,474.1 h3.0" stroke="#000" stroke-width="1.3"/><path d="M49.3,443.8 h3.0" stroke="#000" stroke-width="1.3"/><path d="M49.3,413.6 h3.0" stroke="#000" stroke-width="1.3"/><path d="M49.3,383.4 h3.0" stroke="#000" stroke-width="1.3"/><path d="M49.3,353.1 h3.0" stroke="#000" stroke-width="1.3"/><path d="M49.3,322.9 h3.0" stroke="#000" stroke-width="1.3"/><path d="M49.3,292.6 h3.0" stroke="#000" stroke-width="1.3"/><path d="M82.1,489.4 v-5.0" stroke="#000" stroke-width="1.3"/><path d="M147.4,489.4 v-5.0" stroke="#000" stroke-width="1.3"/><path d="M212.6,489.4 v-5.0" stroke="#000" stroke-width="1.3"/><path d="M277.9,489.4 v-5.0" stroke="#000" stroke-width="1.3"/><path d="M343.1,489.4 v-5.0" stroke="#000" stroke-width="1.3"/><path d="M114.7,489.4 v-3.0" stroke="#000" stroke-width="1.3"/><path d="M180.0,489.4 v-3.0" stroke="#000" stroke-width="1.3"/><path d="M245.2,489.4 v-3.0" stroke="#000" stroke-width="1.3"/><path d="M310.5,489.4 v-3.0" stroke="#000" stroke-width="1.3"/><path d="M375.7,489.4 v-3.0" stroke="#000" stroke-width="1.3"/><text x="43.7" y="493.1" font-size="14" text-anchor="end">0</text><text x="43.7" y="462.9" font-size="14" text-anchor="end">2</text><text x="43.7" y="432.6" font-size="14" text-anchor="end">4</text><text x="43.7" y="402.4" font-size="14" text-anchor="end">6</text><text x="43.7" y="372.1" font-size="14" text-anchor="end">8</text><text x="43.7" y="341.9" font-size="14" text-anchor="end">10</text><text x="43.7" y="311.7" font-size="14" text-anchor="end">12</text><text x="43.7" y="281.4" font-size="14" text-anchor="end">14</text><text x="82.4" y="507.8" font-size="14" text-anchor="middle">1.63</text><text x="147.7" y="507.8" font-size="14" text-anchor="middle">1.64</text><text x="212.9" y="507.8" font-size="14" text-anchor="middle">1.65</text><text x="278.2" y="507.8" font-size="14" text-anchor="middle">1.66</text><text x="343.4" y="507.8" font-size="14" text-anchor="middle">1.67</text><text x="408.7" y="507.8" font-size="14" text-anchor="middle">1.68</text><text x="156.3" y="523" font-size="14">PL photon energy <tspan font-family="Liberation Serif, serif" font-style="italic" font-size="14.5">&#x127;</tspan><tspan font-family="Liberation Serif, serif" font-style="italic" font-size="15.5" dx="1.3">&#x3C9;</tspan><tspan dx="-1.1"> (eV)</tspan></text><text transform="translate(18.4,459.8) rotate(-90)" font-size="14.6">PL Intensity (arb. units)</text><g clip-path="url(#cc)"><path d="M49.5,486.9 L50.3,486.9 L51.1,486.9 L51.9,486.9 L52.7,486.9 L53.5,486.9 L54.3,486.9 L55.1,486.9 L55.9,486.9 L56.7,486.8 L57.5,486.8 L58.3,486.8 L59.1,486.8 L59.9,486.8 L60.7,486.8 L61.5,486.8 L62.3,486.7 L63.1,486.7 L63.9,486.7 L64.7,486.6 L65.5,486.6 L66.3,486.5 L67.1,486.5 L67.9,486.4 L68.7,486.4 L69.5,486.3 L70.3,486.3 L71.1,486.2 L71.9,486.2 L72.7,486.1 L73.5,486.0 L74.3,486.0 L75.1,485.9 L75.9,485.8 L76.7,485.8 L77.5,485.7 L78.3,485.6 L79.1,485.5 L79.9,485.4 L80.7,485.3 L81.5,485.2 L82.2,485.1 L83.0,485.0 L83.8,484.9 L84.6,484.7 L85.4,484.6 L86.2,484.4 L87.0,484.3 L87.8,484.1 L88.5,483.9 L89.3,483.8 L90.1,483.6 L90.9,483.4 L91.6,483.2 L92.4,483.0 L93.2,482.7 L94.0,482.5 L94.7,482.3 L95.5,482.0 L96.2,481.8 L97.0,481.5 L97.8,481.3 L98.5,481.1 L99.3,480.8 L100.1,480.6 L100.8,480.4 L101.6,480.1 L102.4,479.9 L103.1,479.6 L103.9,479.4 L104.7,479.1 L105.4,478.9 L106.2,478.7 L107.0,478.5 L107.8,478.3 L108.5,478.2 L109.3,478.0 L110.1,477.9 L110.9,477.7 L111.7,477.6 L112.5,477.5 L113.3,477.4 L114.1,477.3 L114.9,477.2 L115.7,477.2 L116.5,477.2 L117.3,477.3 L118.1,477.3 L118.9,477.4 L119.7,477.6 L120.4,477.7 L121.2,477.9 L122.0,478.0 L122.8,478.2 L123.6,478.3 L124.4,478.5 L125.2,478.7 L125.9,478.9 L126.7,479.1 L127.5,479.3 L128.2,479.5 L129.0,479.8 L129.8,480.0 L130.5,480.3 L131.3,480.5 L132.0,480.8 L132.8,481.1 L133.5,481.4 L134.3,481.7 L135.0,482.0 L135.8,482.3 L136.5,482.6 L137.2,482.9 L138.0,483.2 L138.7,483.5 L139.5,483.8 L140.3,484.0 L141.0,484.3 L141.8,484.6 L142.5,484.8 L143.3,485.0 L144.1,485.2 L144.8,485.4 L145.6,485.6 L146.4,485.7 L147.2,485.9 L148.0,486.0 L148.8,486.1 L149.6,486.2 L150.4,486.2 L151.2,486.3 L152.0,486.3 L152.8,486.4 L153.6,486.4 L154.4,486.4 L155.2,486.5 L156.0,486.5 L156.8,486.5 L157.6,486.5 L158.3,486.2 L159.0,485.8 L159.8,485.4 L160.5,485.0 L161.2,484.6 L161.9,484.1 L162.6,483.6 L163.3,483.5 L164.0,483.5 L164.8,483.5 L165.6,483.6 L166.5,483.6 L167.3,483.7 L168.1,483.7 L168.9,483.7 L169.7,483.8 L170.5,483.8 L171.3,483.8 L172.1,483.9 L172.9,483.9 L173.7,484.0 L174.5,484.0 L175.3,484.1 L176.1,484.1 L176.9,484.2 L177.7,484.3 L178.5,484.4 L179.3,484.5 L180.1,484.6 L180.8,484.7 L181.6,484.8 L182.4,484.9 L183.2,484.9 L184.0,485.0 L184.8,485.1 L185.6,485.1 L186.4,485.2 L187.2,485.3 L188.0,485.4 L188.8,485.4 L189.6,485.5 L190.4,485.6 L191.2,485.6 L192.0,485.7 L192.8,485.7 L193.6,485.7 L194.4,485.7 L195.2,485.7 L196.0,485.7 L196.8,485.7 L197.6,485.7 L198.4,485.6 L199.2,485.6 L200.0,485.6 L200.8,485.5 L201.6,485.5 L202.4,485.5 L203.2,485.4 L204.0,485.3 L204.8,485.2 L205.6,485.1 L206.4,485.0 L207.2,484.8 L208.0,484.6 L208.7,484.4 L209.5,484.2 L210.2,483.8 L210.9,483.4 L211.6,483.0 L212.3,482.5 L212.9,482.1 L213.5,481.6 L214.1,481.1 L214.7,480.5 L215.3,480.0 L215.9,479.4 L216.4,478.8 L216.9,478.2 L217.5,477.6 L218.0,476.9 L218.5,476.3 L219.0,475.7 L219.5,475.1 L220.0,474.4 L220.5,473.8 L220.9,473.1 L221.4,472.5 L221.8,471.8 L222.2,471.1 L222.6,470.4 L223.0,469.7 L223.4,469.0 L223.7,468.3 L224.1,467.6 L224.4,466.9 L224.8,466.1 L225.1,465.4 L225.5,464.7 L225.8,464.0 L226.1,463.2 L226.5,462.5 L226.8,461.8 L227.2,461.1 L227.5,460.3 L227.8,459.6 L228.2,458.8 L228.4,458.1 L228.7,457.4 L229.0,456.6 L229.2,455.8 L229.4,455.1 L229.6,454.3 L229.8,453.5 L230.0,452.8 L230.2,452.0 L230.4,451.2 L230.5,450.4 L230.7,449.6 L230.9,448.9 L231.0,448.1 L231.2,447.3 L231.3,446.5 L231.5,445.7 L231.7,444.9 L231.8,444.1 L232.0,443.3 L232.2,442.6 L232.3,441.8 L232.5,441.0 L232.7,440.2 L232.8,439.4 L233.0,438.6 L233.1,437.9 L233.3,437.1 L233.5,436.3 L233.6,435.5 L233.8,434.7 L233.9,433.9 L234.1,433.2 L234.3,432.4 L234.4,431.6 L234.6,430.8 L234.7,430.0 L234.9,429.2 L235.0,428.4 L235.2,427.7 L235.4,426.9 L235.5,426.1 L235.7,425.3 L235.8,424.5 L236.0,423.7 L236.1,422.9 L236.3,422.2 L236.4,421.4 L236.6,420.6 L236.7,419.8 L236.9,419.0 L237.0,418.2 L237.2,417.4 L237.3,416.7 L237.5,415.9 L237.6,415.1 L237.8,414.3 L237.9,413.5 L238.1,412.7 L238.2,411.9 L238.3,411.1 L238.5,410.4 L238.6,409.6 L238.8,408.8 L238.9,408.0 L239.1,407.2 L239.2,406.4 L239.3,405.6 L239.5,404.8 L239.6,404.1 L239.8,403.3 L239.9,402.5 L240.0,401.7 L240.2,400.9 L240.3,400.1 L240.5,399.3 L240.6,398.5 L240.8,397.8 L240.9,397.0 L241.0,396.2 L241.2,395.4 L241.3,394.6 L241.5,393.8 L241.6,393.0 L241.8,392.2 L241.9,391.5 L242.0,390.7 L242.2,389.9 L242.3,389.1 L242.5,388.3 L242.6,387.5 L242.7,386.7 L242.9,385.9 L243.0,385.1 L243.2,384.4 L243.3,383.6 L243.4,382.8 L243.6,382.0 L243.7,381.2 L243.9,380.4 L244.0,379.6 L244.1,378.8 L244.3,378.0 L244.4,377.3 L244.6,376.5 L244.7,375.7 L244.9,374.9 L245.0,374.1 L245.2,373.3 L245.4,372.6 L245.5,371.8 L245.7,371.0 L245.9,370.2 L246.0,369.4 L246.2,368.6 L246.4,367.9 L246.6,367.1 L246.8,366.3 L247.0,365.5 L247.2,364.8 L247.4,364.0 L247.6,363.2 L247.8,362.4 L248.0,361.7 L248.2,360.9 L248.5,360.1 L248.7,359.4 L248.9,358.6 L249.1,357.8 L249.3,357.0 L249.5,356.3 L249.7,355.5 L249.9,354.7 L250.2,354.0 L250.4,353.2 L250.6,352.4 L250.8,351.6 L251.0,350.9 L251.2,350.1 L251.5,349.3 L251.7,348.6 L251.9,347.8 L252.2,347.0 L252.4,346.3 L252.6,345.5 L252.9,344.7 L253.1,344.0 L253.3,343.2 L253.6,342.4 L253.8,341.7 L254.0,340.9 L254.3,340.1 L254.5,339.3 L254.8,338.6 L255.1,337.8 L255.4,337.1 L255.7,336.4 L256.0,335.6 L256.3,334.9 L256.7,334.2 L257.1,333.4 L257.5,332.7 L258.0,332.1 L258.6,331.7 L259.3,331.3 L260.1,330.9 L260.9,330.8 L261.6,330.9 L262.4,331.2 L263.2,331.6 L263.7,332.1 L264.2,332.7 L264.6,333.4 L264.9,334.2 L265.3,335.0 L265.5,335.7 L265.8,336.5 L266.1,337.2 L266.3,338.0 L266.6,338.7 L266.8,339.5 L267.0,340.3 L267.2,341.0 L267.4,341.8 L267.6,342.6 L267.8,343.4 L268.0,344.2 L268.2,344.9 L268.4,345.7 L268.6,346.5 L268.7,347.3 L268.9,348.1 L269.1,348.9 L269.3,349.6 L269.4,350.4 L269.6,351.2 L269.8,352.0 L270.0,352.8 L270.1,353.5 L270.3,354.3 L270.4,355.1 L270.6,355.9 L270.8,356.7 L270.9,357.5 L271.1,358.3 L271.2,359.0 L271.4,359.8 L271.5,360.6 L271.6,361.4 L271.8,362.2 L271.9,363.0 L272.1,363.8 L272.2,364.6 L272.3,365.4 L272.5,366.1 L272.6,366.9 L272.7,367.7 L272.9,368.5 L273.0,369.3 L273.1,370.1 L273.2,370.9 L273.4,371.7 L273.5,372.5 L273.6,373.3 L273.7,374.0 L273.8,374.8 L273.9,375.6 L274.0,376.4 L274.2,377.2 L274.3,378.0 L274.4,378.8 L274.5,379.6 L274.6,380.4 L274.7,381.2 L274.8,382.0 L274.9,382.8 L275.1,383.6 L275.2,384.4 L275.3,385.1 L275.4,385.9 L275.5,386.7 L275.7,387.5 L275.8,388.3 L275.9,389.1 L276.0,389.9 L276.2,390.7 L276.3,391.5 L276.4,392.3 L276.6,393.0 L276.7,393.8 L276.9,394.6 L277.0,395.4 L277.1,396.2 L277.3,397.0 L277.4,397.8 L277.6,398.6 L277.7,399.3 L277.9,400.1 L278.0,400.9 L278.1,401.7 L278.3,402.5 L278.4,403.3 L278.6,404.1 L278.7,404.9 L278.9,405.6 L279.0,406.4 L279.2,407.2 L279.3,408.0 L279.5,408.8 L279.6,409.6 L279.8,410.4 L279.9,411.2 L280.1,411.9 L280.2,412.7 L280.3,413.5 L280.5,414.3 L280.6,415.1 L280.8,415.9 L280.9,416.7 L281.1,417.4 L281.2,418.2 L281.3,419.0 L281.5,419.8 L281.6,420.6 L281.8,421.4 L281.9,422.2 L282.0,423.0 L282.2,423.8 L282.3,424.5 L282.5,425.3 L282.6,426.1 L282.8,426.9 L282.9,427.7 L283.1,428.5 L283.2,429.4 L283.4,430.5 L283.5,431.5 L283.7,432.4 L283.9,433.3 L284.1,433.9 L284.4,434.2 L284.8,434.2 L285.6,433.9 L286.5,433.6 L287.3,433.7 L288.1,434.0 L288.5,434.3 L288.8,434.8 L289.1,435.4 L289.3,436.1 L289.5,436.8 L289.7,437.7 L289.9,438.6 L290.1,439.5 L290.2,440.5 L290.3,441.4 L290.5,442.3 L290.7,443.1 L290.8,443.9 L291.0,444.7 L291.1,445.4 L291.3,446.2 L291.4,447.0 L291.6,447.8 L291.7,448.6 L291.8,449.4 L292.0,450.2 L292.1,451.0 L292.2,451.8 L292.4,452.6 L292.5,453.4 L292.6,454.2 L292.7,455.0 L292.9,455.8 L293.0,456.5 L293.2,457.3 L293.3,458.1 L293.5,458.9 L293.6,459.7 L293.8,460.5 L294.0,461.2 L294.2,462.0 L294.4,462.8 L294.6,463.5 L294.8,464.3 L295.1,465.1 L295.3,465.9 L295.6,466.6 L295.9,467.4 L296.3,468.1 L296.7,468.8 L297.1,469.4 L297.6,470.2 L298.1,470.9 L298.7,471.4 L299.4,471.5 L300.3,471.3 L301.0,471.0 L301.4,470.5 L301.8,469.8 L302.1,469.0 L302.3,468.1 L302.5,467.3 L302.6,466.6 L302.7,465.8 L302.9,465.0 L303.0,464.2 L303.1,463.5 L303.1,462.7 L303.2,461.9 L303.3,461.1 L303.4,460.3 L303.4,459.5 L303.5,458.7 L303.6,457.9 L303.6,457.0 L303.7,456.2 L303.7,455.4 L303.8,454.6 L303.8,453.8 L303.9,453.0 L304.0,452.2 L304.0,451.4 L304.1,450.6 L304.2,449.8 L304.2,449.0 L304.3,448.2 L304.4,447.4 L304.4,446.6 L304.5,445.8 L304.5,445.0 L304.6,444.2 L304.7,443.4 L304.7,442.6 L304.8,441.8 L304.9,441.0 L304.9,440.2 L305.0,439.4 L305.1,438.6 L305.2,437.8 L305.3,437.0 L305.4,436.1 L305.6,435.1 L305.8,434.1 L305.9,433.3 L306.1,432.8 L306.3,432.9 L306.5,433.4 L306.7,434.3 L306.9,435.3 L307.0,436.3 L307.1,437.2 L307.2,438.0 L307.3,438.8 L307.3,439.5 L307.4,440.3 L307.4,441.1 L307.5,441.9 L307.5,442.7 L307.6,443.5 L307.6,444.3 L307.6,445.1 L307.7,445.9 L307.7,446.7 L307.8,447.5 L307.8,448.3 L307.8,449.1 L307.9,450.0 L307.9,450.8 L307.9,451.6 L308.0,452.4 L308.0,453.2 L308.1,454.0 L308.1,454.8 L308.2,455.6 L308.2,456.4 L308.3,457.2 L308.3,458.0 L308.4,458.8 L308.4,459.6 L308.5,460.4 L308.5,461.2 L308.6,462.0 L308.6,462.8 L308.7,463.6 L308.7,464.4 L308.8,465.2 L308.8,466.0 L308.9,466.8 L309.0,467.6 L309.0,468.4 L309.1,469.2 L309.2,470.0 L309.3,470.7 L309.4,471.5 L309.5,472.3 L309.6,473.1 L309.7,473.9 L309.8,474.8 L310.0,475.8 L310.1,476.7 L310.3,477.7 L310.5,478.6 L310.8,479.4 L311.0,480.1 L311.3,480.6 L311.7,481.0 L312.1,481.2 L312.8,481.4 L313.7,481.5 L314.7,481.6 L315.5,481.6 L316.3,481.5 L317.1,481.4 L317.9,481.3 L318.7,481.2 L319.4,481.1 L320.2,481.1 L321.0,481.3 L321.8,481.6 L322.5,481.9 L323.3,482.2 L324.0,482.5 L324.8,482.8 L325.5,483.0 L326.3,483.3 L327.0,483.6 L327.8,483.9 L328.6,484.2 L329.3,484.5 L330.1,484.7 L330.8,485.0 L331.6,485.3 L332.3,485.5 L333.1,485.7 L333.9,485.9 L334.6,486.0 L335.4,486.2 L336.2,486.4 L337.0,486.5 L337.8,486.7 L338.6,486.8 L339.4,486.9 L340.2,487.1 L341.0,487.2 L341.8,487.2 L342.6,487.3 L343.4,487.3 L344.2,487.3 L345.0,487.4 L345.8,487.4 L346.6,487.4 L347.4,487.4 L348.2,487.5 L349.0,487.5 L349.8,487.5 L350.6,487.5 L351.4,487.5 L352.2,487.5 L353.0,487.5 L353.8,487.6 L354.6,487.6 L355.4,487.6 L356.2,487.6 L357.0,487.6 L357.8,487.6 L358.6,487.6 L359.4,487.6 L360.2,487.6 L361.0,487.6 L361.8,487.6 L362.6,487.6 L363.4,487.6 L364.2,487.6 L365.0,487.6 L365.8,487.6 L366.6,487.6 L367.4,487.6 L368.2,487.6 L369.0,487.6 L369.8,487.6 L370.6,487.6 L371.4,487.6 L372.2,487.6 L373.0,487.6 L373.8,487.6 L374.6,487.6 L375.4,487.6 L376.2,487.6 L377.0,487.6 L377.8,487.6 L378.6,487.6 L379.4,487.6 L380.2,487.6 L381.0,487.6 L381.8,487.6 L382.6,487.6 L383.4,487.6 L384.2,487.6 L385.0,487.6 L385.8,487.6 L386.6,487.6 L387.4,487.6 L388.2,487.6 L389.0,487.6 L389.8,487.6 L390.6,487.6 L391.4,487.6 L392.2,487.6 L393.0,487.6 L393.8,487.6 L394.6,487.6 L395.4,487.6 L396.2,487.6 L397.0,487.6 L397.8,487.6 L398.6,487.6 L399.4,487.6 L400.2,487.6 L401.0,487.6 L401.8,487.6 L402.6,487.6 L403.4,487.6 L404.2,487.6 L405.0,487.6 L405.8,487.6 L406.6,487.6 L407.4,487.6 L408.2,487.6 L409.0,487.6" fill="none" stroke="#0000ff" stroke-width="2.2" stroke-linejoin="round"/><path d="M49.5,488.5 L50.3,488.5 L51.1,488.5 L51.9,488.5 L52.7,488.5 L53.5,488.5 L54.3,488.5 L55.1,488.5 L55.9,488.5 L56.7,488.4 L57.5,488.4 L58.3,488.4 L59.1,488.4 L59.9,488.4 L60.7,488.4 L61.5,488.4 L62.3,488.3 L63.1,488.3 L63.9,488.3 L64.7,488.3 L65.5,488.2 L66.3,488.2 L67.1,488.2 L67.9,488.1 L68.7,488.1 L69.5,488.0 L70.3,488.0 L71.1,487.9 L71.9,487.9 L72.7,487.8 L73.5,487.8 L74.3,487.7 L75.1,487.7 L75.9,487.6 L76.7,487.5 L77.5,487.5 L78.3,487.4 L79.1,487.3 L79.9,487.2 L80.7,487.1 L81.5,487.0 L82.2,486.9 L83.0,486.8 L83.8,486.6 L84.6,486.5 L85.4,486.3 L86.2,486.1 L86.9,485.9 L87.7,485.7 L88.5,485.4 L89.2,485.2 L90.0,485.0 L90.8,484.8 L91.5,484.5 L92.3,484.2 L93.0,484.0 L93.8,483.7 L94.5,483.4 L95.3,483.1 L96.0,482.8 L96.7,482.5 L97.5,482.1 L98.2,481.8 L99.0,481.5 L99.7,481.2 L100.4,480.9 L101.2,480.6 L101.9,480.2 L102.6,479.9 L103.4,479.6 L104.1,479.2 L104.8,478.9 L105.5,478.6 L106.3,478.3 L107.0,478.0 L107.8,477.7 L108.5,477.4 L109.3,477.1 L110.0,476.8 L110.8,476.5 L111.5,476.3 L112.3,476.0 L113.1,475.8 L113.8,475.6 L114.6,475.5 L115.4,475.3 L116.2,475.2 L117.0,475.1 L117.8,475.0 L118.6,475.0 L119.4,475.0 L120.2,475.1 L121.0,475.2 L121.8,475.4 L122.6,475.5 L123.3,475.7 L124.1,475.8 L124.9,476.0 L125.7,476.2 L126.4,476.4 L127.2,476.7 L128.0,476.9 L128.7,477.2 L129.5,477.5 L130.2,477.8 L131.0,478.0 L131.7,478.4 L132.4,478.7 L133.2,479.0 L133.9,479.4 L134.6,479.8 L135.3,480.1 L136.0,480.5 L136.7,480.9 L137.4,481.2 L138.2,481.6 L138.9,481.9 L139.6,482.3 L140.3,482.6 L141.0,483.0 L141.8,483.3 L142.5,483.7 L143.2,484.1 L143.9,484.4 L144.6,484.9 L145.2,485.3 L145.9,485.8 L146.6,486.2 L147.3,486.5 L148.1,486.7 L148.8,486.8 L149.6,487.0 L150.4,487.1 L151.2,487.2 L152.0,487.3 L152.9,487.3 L153.6,487.3 L154.5,487.3 L155.3,487.3 L156.1,487.2 L156.9,487.2 L157.7,487.1 L158.5,487.1 L159.3,487.0 L160.0,486.9 L160.8,486.8 L161.6,486.5 L162.3,486.2 L163.1,486.0 L163.9,485.7 L164.6,485.5 L165.4,485.2 L166.1,484.9 L166.9,484.7 L167.7,484.5 L168.4,484.3 L169.2,484.0 L170.0,483.9 L170.8,483.8 L171.6,483.7 L172.4,483.6 L173.2,483.5 L174.0,483.5 L174.8,483.5 L175.6,483.5 L176.4,483.6 L177.2,483.7 L177.9,483.8 L178.7,483.9 L179.5,484.0 L180.3,484.1 L181.1,484.2 L181.9,484.3 L182.7,484.4 L183.5,484.5 L184.3,484.6 L185.1,484.7 L185.9,484.8 L186.7,484.9 L187.5,485.0 L188.3,485.1 L189.1,485.2 L189.9,485.3 L190.7,485.4 L191.5,485.5 L192.2,485.6 L193.0,485.7 L193.8,485.8 L194.6,485.9 L195.4,485.9 L196.2,486.0 L197.0,486.0 L197.8,486.0 L198.6,486.0 L199.4,486.0 L200.2,486.0 L201.0,486.0 L201.8,486.0 L202.6,486.0 L203.4,486.0 L204.2,486.0 L205.0,485.9 L205.8,485.8 L206.6,485.6 L207.4,485.4 L208.2,485.1 L208.9,484.9 L209.7,484.7 L210.4,484.4 L211.1,484.0 L211.8,483.6 L212.6,483.2 L213.2,482.8 L213.9,482.4 L214.6,482.0 L215.3,481.5 L215.9,481.1 L216.5,480.6 L217.2,480.1 L217.8,479.6 L218.4,479.0 L219.0,478.5 L219.6,477.9 L220.1,477.3 L220.6,476.8 L221.2,476.2 L221.6,475.5 L222.1,474.9 L222.6,474.2 L223.0,473.5 L223.4,472.8 L223.8,472.2 L224.2,471.5 L224.6,470.8 L225.0,470.1 L225.3,469.3 L225.7,468.6 L226.0,467.9 L226.3,467.2 L226.7,466.4 L227.0,465.7 L227.3,464.9 L227.6,464.2 L227.9,463.5 L228.2,462.7 L228.5,462.0 L228.8,461.2 L229.2,460.5 L229.5,459.8 L229.8,459.0 L230.1,458.3 L230.3,457.5 L230.6,456.8 L230.8,456.0 L231.0,455.2 L231.2,454.5 L231.4,453.7 L231.6,452.9 L231.8,452.1 L232.0,451.4 L232.2,450.6 L232.3,449.8 L232.5,449.0 L232.7,448.2 L232.8,447.4 L233.0,446.7 L233.2,445.9 L233.4,445.1 L233.5,444.3 L233.7,443.5 L233.9,442.8 L234.0,442.0 L234.2,441.2 L234.4,440.4 L234.5,439.6 L234.7,438.8 L234.9,438.1 L235.0,437.3 L235.2,436.5 L235.3,435.7 L235.5,434.9 L235.7,434.1 L235.8,433.4 L236.0,432.6 L236.1,431.8 L236.3,431.0 L236.4,430.2 L236.6,429.4 L236.7,428.6 L236.9,427.9 L237.0,427.1 L237.2,426.3 L237.3,425.5 L237.5,424.7 L237.6,423.9 L237.8,423.1 L237.9,422.3 L238.1,421.6 L238.2,420.8 L238.3,420.0 L238.5,419.2 L238.6,418.4 L238.8,417.6 L238.9,416.8 L239.0,416.1 L239.2,415.3 L239.3,414.5 L239.4,413.7 L239.6,412.9 L239.7,412.1 L239.8,411.3 L240.0,410.5 L240.1,409.7 L240.2,409.0 L240.4,408.2 L240.5,407.4 L240.6,406.6 L240.7,405.8 L240.9,405.0 L241.0,404.2 L241.1,403.4 L241.3,402.6 L241.4,401.8 L241.5,401.1 L241.6,400.3 L241.8,399.5 L241.9,398.7 L242.0,397.9 L242.2,397.1 L242.3,396.3 L242.4,395.5 L242.5,394.7 L242.7,393.9 L242.8,393.2 L242.9,392.4 L243.1,391.6 L243.2,390.8 L243.3,390.0 L243.5,389.2 L243.6,388.4 L243.8,387.6 L243.9,386.9 L244.1,386.1 L244.2,385.3 L244.4,384.5 L244.5,383.7 L244.7,382.9 L244.8,382.1 L245.0,381.3 L245.1,380.6 L245.3,379.8 L245.4,379.0 L245.6,378.2 L245.7,377.4 L245.8,376.6 L245.9,375.8 L246.1,375.0 L246.2,374.2 L246.3,373.4 L246.4,372.7 L246.5,371.9 L246.6,371.1 L246.7,370.3 L246.7,369.5 L246.8,368.7 L246.9,367.9 L246.9,367.1 L247.0,366.3 L247.1,365.5 L247.1,364.7 L247.2,363.9 L247.2,363.1 L247.3,362.3 L247.3,361.5 L247.3,360.7 L247.4,359.9 L247.4,359.1 L247.5,358.3 L247.5,357.5 L247.6,356.7 L247.6,355.9 L247.7,355.1 L247.8,354.3 L247.8,353.5 L247.9,352.7 L248.0,351.9 L248.1,351.1 L248.2,350.3 L248.3,349.6 L248.4,348.8 L248.5,348.0 L248.6,347.2 L248.8,346.4 L248.9,345.6 L249.0,344.8 L249.2,344.0 L249.3,343.2 L249.5,342.5 L249.6,341.7 L249.8,340.9 L249.9,340.1 L250.1,339.3 L250.2,338.5 L250.4,337.7 L250.5,336.9 L250.7,336.2 L250.8,335.4 L251.0,334.6 L251.1,333.8 L251.2,333.0 L251.4,332.2 L251.5,331.4 L251.6,330.6 L251.8,329.8 L251.9,329.1 L252.0,328.3 L252.2,327.5 L252.3,326.7 L252.4,325.9 L252.5,325.1 L252.7,324.3 L252.8,323.5 L252.9,322.7 L253.0,321.9 L253.1,321.1 L253.3,320.4 L253.4,319.6 L253.5,318.8 L253.6,318.0 L253.8,317.2 L253.9,316.4 L254.0,315.6 L254.2,314.8 L254.3,314.0 L254.4,313.2 L254.6,312.5 L254.7,311.7 L254.8,310.9 L255.0,310.1 L255.1,309.3 L255.3,308.5 L255.4,307.7 L255.6,307.0 L255.7,306.2 L255.9,305.4 L256.0,304.6 L256.2,303.8 L256.4,303.0 L256.5,302.3 L256.7,301.5 L256.9,300.7 L257.0,299.9 L257.2,299.1 L257.4,298.3 L257.5,297.6 L257.7,296.8 L257.9,296.0 L258.1,295.2 L258.3,294.4 L258.5,293.7 L258.6,292.9 L258.8,292.1 L259.0,291.3 L259.2,290.5 L259.4,289.8 L259.6,289.0 L259.8,288.2 L260.0,287.4 L260.2,286.6 L260.4,285.9 L260.6,285.1 L260.9,284.4 L261.1,283.6 L261.4,282.7 L261.8,281.8 L262.2,280.9 L262.5,280.2 L263.0,279.7 L263.5,279.6 L264.1,280.0 L264.8,280.6 L265.4,281.3 L265.8,281.9 L266.1,282.6 L266.4,283.3 L266.7,284.1 L267.0,284.9 L267.2,285.7 L267.4,286.5 L267.6,287.3 L267.8,288.0 L267.9,288.8 L268.1,289.6 L268.3,290.4 L268.4,291.1 L268.6,291.9 L268.7,292.7 L268.8,293.5 L269.0,294.3 L269.1,295.1 L269.2,295.9 L269.3,296.7 L269.5,297.5 L269.6,298.2 L269.7,299.0 L269.8,299.8 L269.9,300.6 L270.0,301.4 L270.1,302.2 L270.2,303.0 L270.3,303.8 L270.4,304.6 L270.6,305.4 L270.7,306.2 L270.8,307.0 L270.9,307.8 L271.0,308.6 L271.2,309.4 L271.3,310.2 L271.4,311.0 L271.6,311.7 L271.7,312.5 L271.8,313.3 L272.0,314.1 L272.1,314.9 L272.2,315.7 L272.4,316.5 L272.5,317.3 L272.7,318.1 L272.8,318.8 L272.9,319.6 L273.1,320.4 L273.2,321.2 L273.3,322.0 L273.5,322.8 L273.6,323.6 L273.7,324.4 L273.9,325.2 L274.0,325.9 L274.1,326.7 L274.3,327.5 L274.4,328.3 L274.5,329.1 L274.6,329.9 L274.8,330.7 L274.9,331.5 L275.0,332.3 L275.1,333.1 L275.3,333.8 L275.4,334.6 L275.5,335.4 L275.6,336.2 L275.7,337.0 L275.9,337.8 L276.0,338.6 L276.1,339.4 L276.2,340.2 L276.3,341.0 L276.4,341.8 L276.5,342.5 L276.7,343.3 L276.8,344.1 L276.9,344.9 L277.0,345.7 L277.1,346.5 L277.2,347.3 L277.4,348.1 L277.5,348.9 L277.6,349.7 L277.7,350.5 L277.8,351.3 L278.0,352.0 L278.1,352.8 L278.2,353.6 L278.3,354.4 L278.5,355.2 L278.6,356.0 L278.7,356.8 L278.9,357.6 L279.0,358.4 L279.2,359.1 L279.3,359.9 L279.5,360.7 L279.6,361.5 L279.8,362.3 L279.9,363.1 L280.1,363.9 L280.2,364.6 L280.4,365.4 L280.5,366.2 L280.7,367.0 L280.8,367.8 L281.0,368.6 L281.1,369.4 L281.3,370.2 L281.4,370.9 L281.5,371.7 L281.7,372.5 L281.8,373.3 L281.9,374.1 L282.0,374.9 L282.1,375.7 L282.2,376.5 L282.3,377.3 L282.4,378.1 L282.5,378.9 L282.5,379.7 L282.6,380.5 L282.7,381.2 L282.8,382.0 L282.8,382.8 L282.9,383.6 L283.0,384.4 L283.1,385.2 L283.1,386.0 L283.2,386.8 L283.3,387.6 L283.3,388.4 L283.4,389.2 L283.5,390.0 L283.6,390.8 L283.7,391.6 L283.8,392.4 L283.8,393.2 L283.9,394.0 L284.0,394.8 L284.1,395.6 L284.2,396.4 L284.3,397.2 L284.5,398.0 L284.6,398.8 L284.7,399.5 L284.8,400.3 L284.9,401.1 L285.0,401.9 L285.2,402.7 L285.3,403.5 L285.4,404.3 L285.5,405.1 L285.7,405.9 L285.8,406.7 L285.9,407.5 L286.1,408.3 L286.2,409.0 L286.4,409.8 L286.5,410.6 L286.7,411.4 L286.8,412.2 L287.0,413.0 L287.1,413.8 L287.3,414.5 L287.4,415.3 L287.6,416.1 L287.8,416.9 L288.0,417.6 L288.1,418.4 L288.3,419.2 L288.5,420.0 L288.7,420.7 L289.0,421.5 L289.2,422.3 L289.4,423.1 L289.6,423.8 L289.9,424.6 L290.1,425.4 L290.3,426.1 L290.6,426.9 L290.8,427.7 L291.1,428.4 L291.3,429.2 L291.5,429.9 L291.8,430.7 L292.0,431.5 L292.3,432.2 L292.5,433.0 L292.7,433.8 L293.0,434.5 L293.2,435.3 L293.4,436.1 L293.7,436.8 L293.9,437.6 L294.2,438.4 L294.4,439.1 L294.7,439.9 L294.9,440.6 L295.2,441.4 L295.5,442.1 L295.7,442.9 L296.0,443.6 L296.3,444.4 L296.6,445.1 L296.8,445.9 L297.1,446.6 L297.4,447.4 L297.7,448.1 L298.0,448.9 L298.3,449.6 L298.6,450.4 L298.9,451.1 L299.2,451.9 L299.6,452.6 L299.9,453.3 L300.2,454.1 L300.5,454.8 L300.9,455.5 L301.2,456.2 L301.6,456.9 L302.0,457.6 L302.4,458.3 L302.7,459.0 L303.1,459.7 L303.5,460.5 L304.0,461.2 L304.5,461.8 L305.0,462.3 L305.9,462.7 L306.6,462.9 L306.8,462.8 L306.9,462.4 L307.1,461.8 L307.2,461.0 L307.3,460.0 L307.4,459.0 L307.5,458.0 L307.5,456.9 L307.6,455.9 L307.6,455.0 L307.6,454.3 L307.7,453.5 L307.7,452.7 L307.7,451.9 L307.7,451.1 L307.8,450.3 L307.8,449.5 L307.8,448.7 L307.8,447.9 L307.8,447.1 L307.9,446.3 L307.9,445.5 L307.9,444.7 L307.9,443.9 L307.9,443.1 L307.9,442.3 L307.9,441.5 L308.0,440.7 L308.0,439.9 L308.0,439.1 L308.0,438.3 L308.0,437.5 L308.0,436.7 L308.0,435.9 L308.0,435.1 L308.1,434.3 L308.1,433.5 L308.1,432.7 L308.1,431.9 L308.1,431.1 L308.2,430.3 L308.2,429.5 L308.2,428.7 L308.2,427.9 L308.3,427.1 L308.3,426.3 L308.3,425.5 L308.3,424.7 L308.3,423.9 L308.4,423.1 L308.4,422.3 L308.4,421.5 L308.4,420.7 L308.5,419.9 L308.5,419.1 L308.5,418.3 L308.5,417.5 L308.6,416.7 L308.6,415.9 L308.6,415.1 L308.6,414.3 L308.6,413.5 L308.7,412.7 L308.7,411.9 L308.7,411.1 L308.7,410.3 L308.8,409.5 L308.8,408.7 L308.8,407.9 L308.8,407.1 L308.9,406.3 L308.9,405.5 L308.9,404.7 L308.9,403.9 L309.0,403.1 L309.0,402.3 L309.0,401.5 L309.0,400.7 L309.1,399.9 L309.1,399.1 L309.1,398.3 L309.1,397.5 L309.2,396.7 L309.2,395.9 L309.2,395.1 L309.2,394.3 L309.3,393.5 L309.3,392.7 L309.3,391.9 L309.3,391.1 L309.4,390.3 L309.4,389.5 L309.4,388.7 L309.4,387.9 L309.5,387.1 L309.5,386.3 L309.5,385.5 L309.5,384.7 L309.5,383.9 L309.6,383.1 L309.6,382.3 L309.6,381.5 L309.6,380.7 L309.7,379.9 L309.7,379.1 L309.7,378.3 L309.7,377.5 L309.8,376.7 L309.8,375.9 L309.8,375.1 L309.8,374.3 L309.8,373.5 L309.9,372.7 L309.9,371.9 L309.9,371.1 L309.9,370.3 L310.0,369.5 L310.0,368.7 L310.0,367.9 L310.0,367.1 L310.1,366.3 L310.1,365.5 L310.1,364.7 L310.2,363.9 L310.2,363.1 L310.2,362.3 L310.2,361.5 L310.3,360.7 L310.3,359.9 L310.3,359.0 L310.4,358.1 L310.4,357.2 L310.4,356.2 L310.5,355.2 L310.5,354.1 L310.5,353.1 L310.6,352.0 L310.6,350.9 L310.7,349.9 L310.7,348.9 L310.7,347.9 L310.8,346.9 L310.8,346.0 L310.9,345.2 L310.9,344.4 L311.0,343.7 L311.0,343.2 L311.0,342.7 L311.1,342.3 L311.1,342.0 L311.2,341.8 L311.2,341.8 L311.3,342.0 L311.3,342.3 L311.4,342.8 L311.4,343.4 L311.5,344.1 L311.5,345.0 L311.6,345.9 L311.6,346.9 L311.7,347.9 L311.7,348.9 L311.8,350.0 L311.8,351.1 L311.9,352.1 L311.9,353.1 L312.0,354.0 L312.0,354.9 L312.0,355.7 L312.1,356.5 L312.1,357.3 L312.1,358.1 L312.2,358.9 L312.2,359.7 L312.2,360.5 L312.2,361.3 L312.3,362.1 L312.3,362.9 L312.3,363.7 L312.3,364.5 L312.4,365.3 L312.4,366.1 L312.4,366.9 L312.4,367.7 L312.5,368.5 L312.5,369.3 L312.5,370.1 L312.5,370.9 L312.5,371.7 L312.6,372.5 L312.6,373.3 L312.6,374.1 L312.6,374.9 L312.7,375.7 L312.7,376.5 L312.7,377.3 L312.7,378.1 L312.8,378.9 L312.8,379.7 L312.8,380.5 L312.9,381.3 L312.9,382.1 L312.9,382.9 L312.9,383.7 L313.0,384.5 L313.0,385.3 L313.0,386.1 L313.0,386.9 L313.1,387.7 L313.1,388.5 L313.1,389.3 L313.1,390.1 L313.2,390.9 L313.2,391.7 L313.2,392.5 L313.2,393.3 L313.3,394.1 L313.3,394.9 L313.3,395.7 L313.3,396.5 L313.4,397.3 L313.4,398.1 L313.4,398.9 L313.5,399.7 L313.5,400.5 L313.5,401.3 L313.5,402.0 L313.6,402.8 L313.6,403.6 L313.6,404.4 L313.6,405.2 L313.7,406.0 L313.7,406.8 L313.7,407.6 L313.8,408.4 L313.8,409.2 L313.8,410.0 L313.8,410.8 L313.9,411.6 L313.9,412.4 L313.9,413.2 L314.0,414.0 L314.0,414.8 L314.0,415.6 L314.0,416.4 L314.1,417.2 L314.1,418.0 L314.1,418.8 L314.2,419.6 L314.2,420.4 L314.2,421.2 L314.2,422.0 L314.3,422.8 L314.3,423.6 L314.3,424.4 L314.4,425.2 L314.4,426.0 L314.4,426.8 L314.5,427.6 L314.5,428.4 L314.5,429.2 L314.5,430.0 L314.6,430.8 L314.6,431.6 L314.6,432.4 L314.6,433.2 L314.7,434.0 L314.7,434.8 L314.7,435.6 L314.7,436.4 L314.8,437.2 L314.8,438.0 L314.8,438.8 L314.9,439.6 L314.9,440.4 L314.9,441.2 L314.9,442.0 L315.0,442.8 L315.0,443.6 L315.0,444.4 L315.1,445.2 L315.1,446.0 L315.1,446.8 L315.2,447.6 L315.2,448.4 L315.2,449.2 L315.3,450.0 L315.3,450.8 L315.4,451.6 L315.4,452.4 L315.4,453.2 L315.5,454.0 L315.5,454.8 L315.6,455.6 L315.6,456.4 L315.7,457.2 L315.7,458.0 L315.8,458.8 L315.8,459.6 L315.9,460.4 L315.9,461.2 L316.0,462.0 L316.0,462.8 L316.1,463.6 L316.2,464.4 L316.2,465.3 L316.3,466.1 L316.4,466.9 L316.5,467.7 L316.6,468.5 L316.7,469.3 L316.8,470.1 L316.9,470.9 L317.0,471.7 L317.1,472.5 L317.3,473.3 L317.4,474.1 L317.6,474.8 L317.8,475.6 L318.0,476.3 L318.2,477.0 L318.6,477.7 L319.1,478.4 L319.6,479.1 L320.1,479.6 L320.7,480.1 L321.5,480.5 L322.2,480.9 L322.9,481.2 L323.6,481.5 L324.4,481.9 L325.1,482.2 L325.8,482.5 L326.6,482.8 L327.3,483.1 L328.1,483.4 L328.8,483.6 L329.6,483.9 L330.4,484.2 L331.1,484.4 L331.9,484.7 L332.6,484.9 L333.4,485.2 L334.2,485.4 L334.9,485.6 L335.7,485.9 L336.5,486.1 L337.2,486.3 L338.0,486.5 L338.8,486.7 L339.6,486.9 L340.3,487.1 L341.1,487.2 L341.9,487.4 L342.7,487.6 L343.5,487.7 L344.3,487.9 L345.0,488.0 L345.8,488.2 L346.6,488.3 L347.4,488.5 L348.2,488.6 L349.0,488.7 L349.8,488.8 L350.6,488.8 L351.4,488.9 L352.2,488.9 L353.0,488.9 L353.8,488.9 L354.6,488.9 L355.4,488.9 L356.2,488.9 L357.0,488.9 L357.8,488.9 L358.6,488.9 L359.4,488.9 L360.2,488.9 L360.9,488.9 L361.7,488.9 L362.5,488.9 L363.3,488.9 L364.1,488.9 L364.9,488.9 L365.7,488.9 L366.5,489.0 L367.3,489.0 L368.1,489.0 L368.9,489.0 L369.7,489.0 L370.5,489.0 L371.3,489.0 L372.1,489.0 L372.9,489.0 L373.7,489.0 L374.5,489.0 L375.3,489.0 L376.1,489.0 L376.9,489.0 L377.7,489.0 L378.5,489.0 L379.3,489.0 L380.1,489.0 L380.9,489.0 L381.7,489.0 L382.5,489.0 L383.3,489.0 L384.1,489.0 L384.9,489.0 L385.7,489.0 L386.5,489.0 L387.3,489.0 L388.1,489.0 L388.9,489.0 L389.7,489.0 L390.5,489.0 L391.3,489.0 L392.1,489.0 L392.9,489.0 L393.7,489.0 L394.5,489.0 L395.3,489.0 L396.1,489.0 L396.9,489.0 L397.7,489.0 L398.5,489.0 L399.3,489.0 L400.1,489.0 L400.9,489.0 L401.7,489.0 L402.6,489.0 L403.4,489.0 L404.2,489.0 L405.0,489.0 L405.8,489.0 L406.6,489.0 L407.4,489.0 L408.2,489.0 L409.0,489.0" fill="none" stroke="#ff0000" stroke-width="1.9" stroke-dasharray="4.8,3" stroke-linejoin="round"/></g><text x="392.5" y="293.2" font-size="21.5" text-anchor="middle">(c)</text><text x="90.3" y="412.9" font-size="17.5">LP-LO</text><text x="154.6" y="440.9" font-size="17.5">UP-LO</text><text x="247.3" y="411.7" font-size="17.6">LP</text><text x="308.4" y="306.6" font-size="17">UP</text><text x="272.5" y="285.7" font-size="17.5" fill="#ff0000">B=7T</text><text x="238.6" y="451.9" font-size="17.5" fill="#0000ff">B=0T</text><path d="M117.1,433.5 L117.1,458.2" stroke="#000" stroke-width="1.2"/><path d="M117.1,468.2 L113.9,458.2 L120.3,458.2 Z" fill="#000"/><path d="M174.0,452.0 L174.0,470.2" stroke="#000" stroke-width="1.2"/><path d="M174.0,480.2 L170.8,470.2 L177.2,470.2 Z" fill="#000"/><path d="M260.2,395.7 L260.2,357.8" stroke="#000" stroke-width="1.2"/><path d="M260.2,347.8 L263.4,357.8 L257.0,357.8 Z" fill="#000"/><path d="M311.2,310.0 L311.9,326.3" stroke="#000" stroke-width="1.2"/><path d="M312.3,336.3 L308.7,326.4 L315.1,326.2 Z" fill="#000"/></g></svg></body></html>
